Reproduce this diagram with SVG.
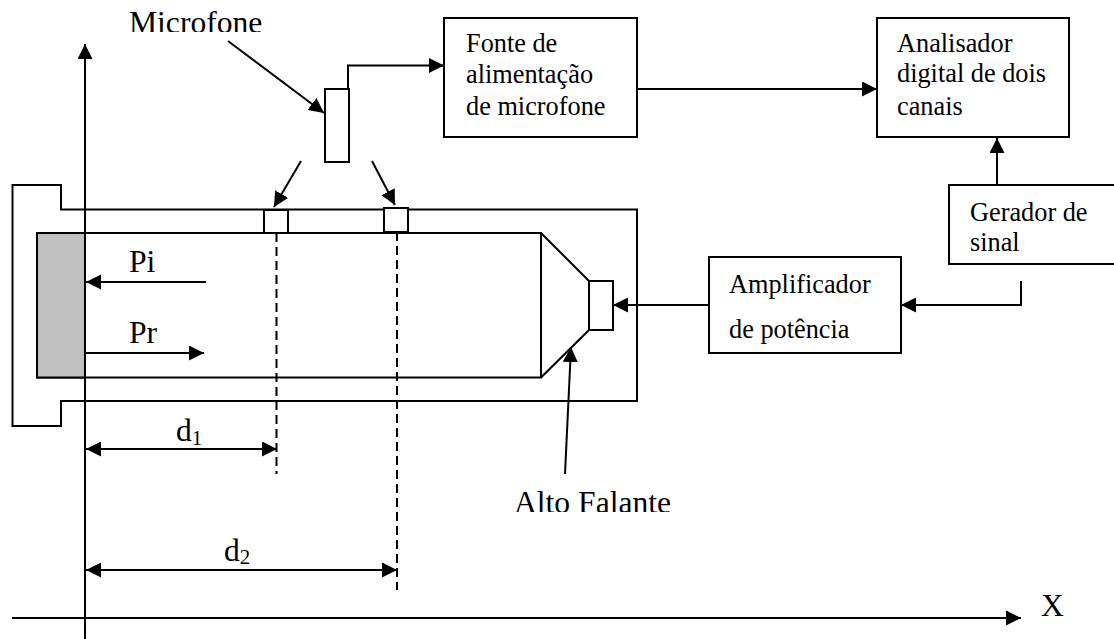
<svg xmlns="http://www.w3.org/2000/svg" width="1114" height="639" viewBox="0 0 1114 639">
<defs>
<marker id="a" markerUnits="userSpaceOnUse" markerWidth="16" markerHeight="16" refX="15" refY="7.5" orient="auto"><path d="M0 0L15 7.5L0 15Z" fill="#000"/></marker>
<marker id="b" markerUnits="userSpaceOnUse" markerWidth="16" markerHeight="16" refX="0" refY="7.5" orient="auto"><path d="M15 0L0 7.5L15 15Z" fill="#000"/></marker>
<clipPath id="c1"><rect x="120" y="0" width="160" height="32"/></clipPath>
<clipPath id="c2"><rect x="505" y="480" width="180" height="32"/></clipPath>
</defs>
<style>
.l{fill:none;stroke:#000;stroke-width:2}
.f{fill:#fff;stroke:#000;stroke-width:2}
.ar{marker-end:url(#a)}
.d{stroke-dasharray:9 5}
text{font-family:"Liberation Serif","Times New Roman",serif;fill:#000}
.s{font-size:26.300px}.m{font-size:31.600px}
.sub{font-size:21px}
</style>
<rect width="1114" height="639" fill="#fff"/>
<g id="tube">
<path class="l" d="M61 209.500H637V401H61V426H12.500V185H61Z"/>
<rect x="37" y="233" width="504" height="144.500" class="l"/>
<rect x="37" y="233" width="48" height="144.500" fill="#c0c0c0" stroke="#000" stroke-width="2"/>
<path class="l" d="M541 233L589 281M541 377.500L589 330"/>
</g>
<g id="speaker"><rect x="589" y="281" width="24" height="49" class="f"/></g>
<g id="mic-port-1"><rect x="264" y="210" width="24" height="23" class="f" stroke-width="2.500"/></g>
<g id="mic-port-2"><rect x="384" y="208" width="24" height="24" class="f" stroke-width="2.500"/></g>
<g id="microfone"><rect x="325" y="89" width="24" height="73" class="f"/><text x="129" y="33" class="m" clip-path="url(#c1)">Microfone</text></g>
<g id="fonte"><rect x="444" y="18" width="193" height="119" class="f"/>
<text x="466" y="52" class="s">Fonte de</text><text x="466" y="83" class="s">alimentação</text><text x="466" y="115" class="s">de microfone</text></g>
<g id="analisador"><rect x="877" y="18" width="192" height="119" class="f"/>
<text x="897" y="52" class="s">Analisador</text><text x="897" y="82" class="s">digital de dois</text><text x="897" y="115" class="s">canais</text></g>
<g id="gerador"><rect x="949" y="185" width="170" height="79" class="f"/>
<text x="970" y="221" class="s">Gerador de</text><text x="970" y="251" class="s">sinal</text></g>
<g id="amplificador"><rect x="709" y="257" width="192" height="96" class="f"/>
<text x="729" y="293" class="s">Amplificador</text><text x="729" y="338" class="s">de potência</text></g>
<g id="labels">
<text x="129" y="272" class="m">Pi</text><text x="129" y="343" class="m">Pr</text>
<text x="176" y="441" class="m">d<tspan class="sub" dy="4">1</tspan></text>
<text x="224" y="561" class="m">d<tspan class="sub" dy="3">2</tspan></text>
<text x="514" y="513" class="m" clip-path="url(#c2)">Alto Falante</text>
<text x="1041" y="616" class="m">X</text>
</g>
<g id="connectors">
<path class="l ar" d="M85 639V44"/>
<path class="l ar" d="M12 618H1021"/>
<path class="l ar" d="M206 282H86"/>
<path class="l ar" d="M86 353H204"/>
<path class="l d" d="M276.500 233V474M397 232V590"/>
<path d="M86 449H277" class="l ar" marker-start="url(#b)"/>
<path d="M86 570H397" class="l ar" marker-start="url(#b)"/>
<path class="l ar" d="M348 89V65.500H444"/>
<path class="l ar" d="M637 89H877"/>
<path class="l ar" d="M997 185V138"/>
<path class="l ar" d="M1021 281V305H901"/>
<path class="l ar" d="M709 305H613"/>
<path class="l ar" d="M228 41L324 113"/>
<path class="l ar" d="M301 161L274 207"/>
<path class="l ar" d="M372 161L395 205"/>
<path class="l ar" d="M565 474L571 347"/>
</g>
</svg>
